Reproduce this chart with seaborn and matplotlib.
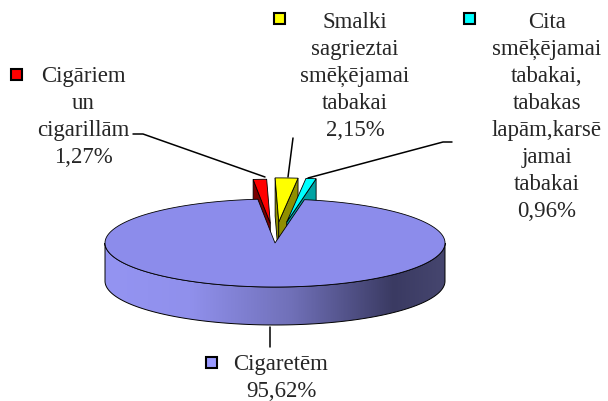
import numpy as np
import matplotlib.pyplot as plt
import seaborn as sns
from matplotlib.patches import Polygon, Rectangle
from matplotlib.colors import LinearSegmentedColormap

sns.set_style("white")
plt.rcParams['font.family'] = ['Liberation Serif', 'DejaVu Serif']

# data
names = [['Cigāriem', 'un', 'cigarillām'],
         ['Smalki', 'sagrieztai', 'smēķējamai', 'tabakai'],
         ['Cita', 'smēķējamai', 'tabakai,', 'tabakas', 'lapām,karsē', 'jamai', 'tabakai'],
         ['Cigaretēm']]
shares = [1.27, 2.15, 0.96, 95.62]
pct_labels = ['1,27%', '2,15%', '0,96%', '95,62%']
top_colors = ['#ff0000', '#ffff00', '#00ffff', '#8c8ceb']
side_colors = ['#7a0000', '#8f8f00', '#00a3a3', '#6a6ab0']
explode = [0.45, 0.48, 0.48, 0.0]

# 3d pie geometry
cx, cy = 275, 243
rx, ry = 170, 44
depth = 38
start = 95.8

fig = plt.figure(figsize=(6.08, 4.01), dpi=100)
ax = fig.add_axes([0, 0, 1, 1])
ax.set_xlim(0, 608)
ax.set_ylim(401, 0)
ax.axis('off')


def rim(t, ox, oy, dz=0):
    t = np.radians(t)
    return np.column_stack([cx + ox + rx * np.cos(t), cy + oy - ry * np.sin(t) + dz])


wall_cmap = LinearSegmentedColormap.from_list(
    'wall', [(0, '#9494f2'), (0.25, '#9090ec'), (0.55, '#7070b8'), (0.85, '#3a3a62'), (1, '#46466f')])

cum = 0
slices = []
for i, s in enumerate(shares):
    a1 = start - cum * 3.6
    a2 = a1 - s * 3.6
    cum += s
    slices.append((i, a1, a2))

# small slices first (back), big one last
for i, a1, a2 in slices[:3]:
    bis = np.radians((a1 + a2) / 2)
    ox = explode[i] * rx * np.cos(bis)
    oy = -explode[i] * ry * np.sin(bis)
    tip = np.array([cx + ox, cy + oy])
    for a, vis in [(a1, np.cos(np.radians(a1)) < 0), (a2, np.cos(np.radians(a2)) > 0)]:
        if not vis:
            continue
        p = rim([a], ox, oy)[0]
        face = [tip, p, p + [0, depth], tip + [0, depth]]
        ax.add_patch(Polygon(face, closed=True, fc=side_colors[i], ec='black', lw=0.6))
    arc = rim(np.linspace(a2, a1, 30), ox, oy)
    ax.add_patch(Polygon(np.vstack([tip, arc]), closed=True, fc=top_colors[i], ec='black', lw=0.6))

# big slice: front wall with horizontal shading
i, a1, a2 = slices[3]
ts = np.linspace(180, 360, 241)
top_edge = rim(ts, 0, 0)
bottom = rim(ts, 0, 0, depth)
wall = Polygon(np.vstack([top_edge, bottom[::-1]]), closed=True, fc='none', ec='black', lw=0.7)
ax.add_patch(wall)
grad = np.linspace(0, 1, 256)[None, :]
img = ax.imshow(grad, cmap=wall_cmap, aspect='auto',
                extent=(cx - rx, cx + rx, cy + ry + depth + 2, cy - 2), zorder=0.5)
img.set_clip_path(wall)
wall.set_zorder(1)
arc = rim(np.linspace(a2, a1, 400), 0, 0)
ax.add_patch(Polygon(np.vstack([[cx, cy], arc]), closed=True, fc=top_colors[3], ec='black', lw=0.6,
                     zorder=1.5))
ax.set_xlim(0, 608)
ax.set_ylim(401, 0)

# labels
fs = 16.5
label_pos = [(83, 82), (355, 28), (547, 28), (281, 370)]
key_pos = [(16, 74), (279, 18), (469, 18), (211, 362)]
line_h = 27
for i in range(4):
    x, y = label_pos[i]
    lines = names[i] + [pct_labels[i]]
    for k, ln in enumerate(lines):
        ax.text(x, y + k * line_h, ln, ha='center', va='baseline', fontsize=fs)
    kx, ky = key_pos[i]
    ax.add_patch(Rectangle((kx - 5.5, ky - 5.5), 11, 11, fc=top_colors[i] if i < 3 else '#9999ff',
                           ec='black', lw=1.5))

# leader lines
ax.plot([133, 143, 265], [134, 134, 177], color='black', lw=1.1, zorder=3)
ax.plot([293, 288], [138, 177], color='black', lw=1.1, zorder=3)
ax.plot([452, 443, 308], [142, 142, 178], color='black', lw=1.1, zorder=3)
ax.plot([270, 270], [327, 347], color='black', lw=1.1, zorder=3)

fig.savefig('out.png', dpi=100)
